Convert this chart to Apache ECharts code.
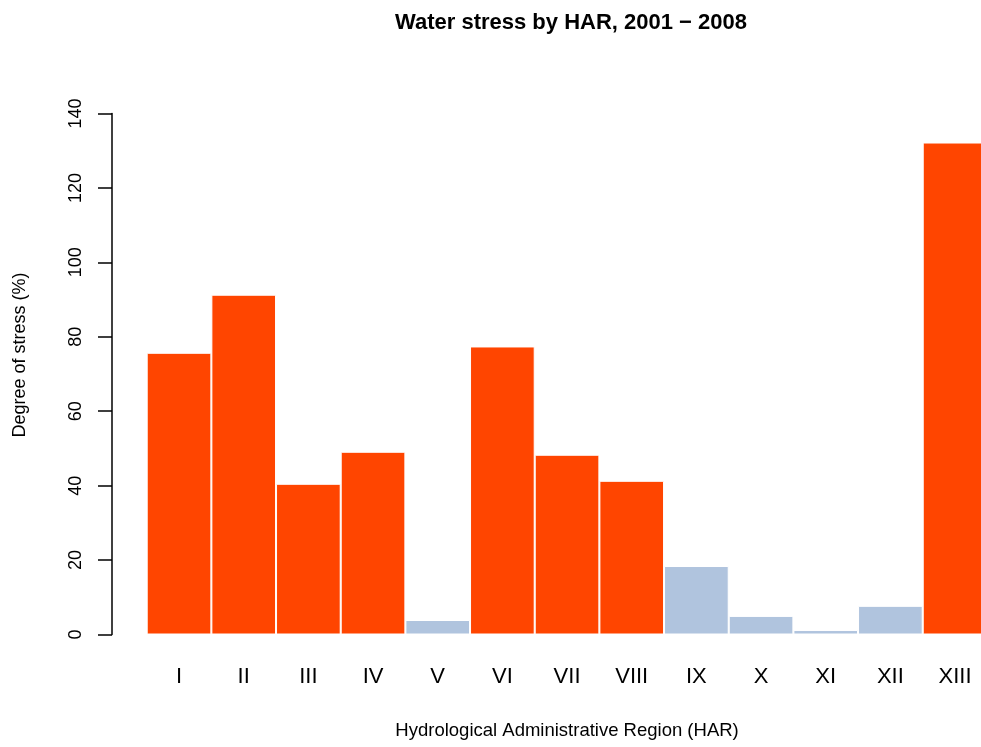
<!DOCTYPE html>
<html>
<head>
<meta charset="utf-8">
<script src="https://cdn.jsdelivr.net/npm/echarts@6/dist/echarts.min.js"></script>
<style>
  html, body { margin: 0; padding: 0; background: #fff; overflow: hidden; }
  /* a bit wider than the window: the last bar runs off the right edge */
  #chart { width: 990px; height: 747px; }
</style>
</head>
<body>
<div id="chart"></div>
<script>
// Hydrological Administrative Regions
const regions = ["I", "II", "III", "IV", "V", "VI", "VII", "VIII", "IX", "X", "XI", "XII", "XIII"];
// degree of stress (%)
const stress = [75.7, 91.3, 40.5, 49.1, 3.9, 77.4, 48.3, 41.3, 18.4, 5.0, 1.2, 7.7, 132.2];
const yTicks = [0, 20, 40, 60, 80, 100, 120, 140];

const font = "Liberation Sans, Arial, Helvetica, sans-serif";

const chart = echarts.init(document.getElementById("chart"));
chart.setOption({
  backgroundColor: "#fff",
  animation: false,
  title: {
    text: "Water stress by HAR, 2001 \u2212 2008",
    left: 566,
    top: 7,
    textAlign: "center",
    textStyle: { fontFamily: font, fontSize: 22, fontWeight: "bold", color: "#000" }
  },
  graphic: [
    {
      type: "text",
      x: 11,
      y: 355,
      rotation: Math.PI / 2,
      style: {
        text: "Degree of stress (%)",
        font: "18px " + font,
        fill: "#000",
        textAlign: "center",
        textVerticalAlign: "top"
      }
    }
  ],
  grid: { left: 146.7, right: 2.6, top: 113.5, bottom: 112.5 },
  xAxis: {
    type: "category",
    data: regions,
    axisLine: { show: false },
    axisTick: { show: false },
    axisLabel: { margin: 31, fontFamily: font, fontSize: 22, color: "#000" },
    name: "Hydrological Administrative Region (HAR)",
    nameLocation: "middle",
    nameGap: 87,
    nameTextStyle: { fontFamily: font, fontSize: 18.5, color: "#000" }
  },
  yAxis: {
    type: "value",
    min: yTicks[0],
    max: yTicks[yTicks.length - 1],
    interval: 20,
    offset: 34.7,
    axisLine: { show: true, lineStyle: { color: "#000", width: 1.5 } },
    axisTick: { show: true, length: 14, lineStyle: { color: "#000", width: 1.5 } },
    axisLabel: { rotate: 90, margin: 27, fontFamily: font, fontSize: 18, color: "#000" },
    splitLine: { show: false }
  },
  series: [
    {
      type: "bar",
      data: stress.map(v => ({
        value: v,
        itemStyle: { color: v > 20 ? "#FF4500" : "#B0C4DE" }
      })),
      barCategoryGap: 0,
      itemStyle: { borderColor: "#fff", borderWidth: 1 }
    }
  ]
});
</script>
</body>
</html>
